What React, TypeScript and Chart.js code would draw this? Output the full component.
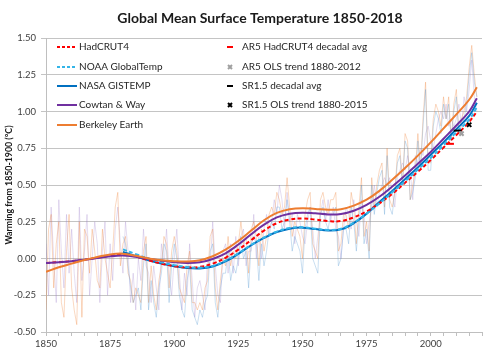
import React, { useEffect, useRef } from "react";
import { Chart, registerables } from "chart.js";
Chart.register(...registerables);

const TITLE = "Global Mean Surface Temperature 1850-2018";
const Y_TITLE = "Warming from 1850-1900 (°C)";

// smoothed curves (knot years)
const SMOOTH_YEARS = [1850, 1855, 1860, 1865, 1870, 1875, 1880, 1885, 1890, 1895, 1900, 1905, 1910, 1915, 1920, 1925, 1930, 1935, 1940, 1945, 1950, 1955, 1960, 1965, 1970, 1975, 1980, 1985, 1990, 1995, 2000, 2005, 2010, 2015, 2018];
const HADCRUT4 = [-0.03, -0.025, -0.018, -0.008, 0.005, 0.018, 0.024, 0.012, -0.012, -0.035, -0.052, -0.06, -0.057, -0.035, 0.005, 0.06, 0.125, 0.19, 0.24, 0.265, 0.272, 0.265, 0.255, 0.255, 0.28, 0.32, 0.375, 0.44, 0.515, 0.59, 0.67, 0.755, 0.84, 0.93, 1.0];
const COWTAN_WAY = [-0.03, -0.025, -0.018, -0.008, 0.003, 0.015, 0.02, 0.012, -0.002, -0.015, -0.025, -0.03, -0.025, -0.003, 0.035, 0.095, 0.165, 0.23, 0.28, 0.305, 0.312, 0.307, 0.3, 0.303, 0.325, 0.365, 0.42, 0.49, 0.565, 0.645, 0.725, 0.815, 0.905, 1.0, 1.09];
const BERKELEY = [-0.09, -0.06, -0.035, -0.01, 0.01, 0.028, 0.033, 0.018, 0.0, -0.012, -0.018, -0.02, -0.012, 0.015, 0.06, 0.12, 0.19, 0.26, 0.31, 0.335, 0.342, 0.337, 0.332, 0.335, 0.36, 0.4, 0.46, 0.535, 0.615, 0.7, 0.79, 0.885, 0.98, 1.08, 1.165];

const US_YEARS = [1880, 1885, 1890, 1895, 1900, 1905, 1910, 1915, 1920, 1925, 1930, 1935, 1940, 1945, 1950, 1955, 1960, 1965, 1970, 1975, 1980, 1985, 1990, 1995, 2000, 2005, 2010, 2015, 2018];
const NASA_GISTEMP = [0.045, 0.015, -0.012, -0.035, -0.052, -0.065, -0.068, -0.055, -0.02, 0.032, 0.09, 0.14, 0.18, 0.203, 0.21, 0.2, 0.19, 0.198, 0.24, 0.305, 0.385, 0.46, 0.54, 0.62, 0.705, 0.79, 0.88, 0.97, 1.06];
const NOAA_GLOBALTEMP = [0.062, 0.03, 0.0, -0.025, -0.045, -0.058, -0.063, -0.05, -0.015, 0.035, 0.093, 0.143, 0.183, 0.207, 0.213, 0.203, 0.194, 0.202, 0.244, 0.305, 0.375, 0.45, 0.525, 0.605, 0.685, 0.77, 0.86, 0.945, 1.03];

// faint raw series (annual, from 1850 and 1880)
const BERKELEY_RAW_START = 1850;
const BERKELEY_RAW = [
  -0.35, 0.2, 0.3, -0.2, 0.1, 0.25, -0.3, -0.4, 0.05, 0.3,
  -0.2, -0.35, -0.45, 0.25, -0.4, 0.2, 0.15, -0.1, 0.2, 0.05,
  -0.15, -0.2, 0.2, 0.0, -0.1, -0.2, 0.05, 0.35, 0.45, -0.05,
  0.1, 0.15, -0.1, -0.15, -0.3, -0.2, -0.25, -0.3, 0.05, 0.15,
  -0.3, -0.05, -0.25, -0.35, -0.15, -0.05, 0.15, 0.1, -0.2, 0.05,
  0.15, 0.05, -0.2, -0.25, -0.3, -0.05, 0.05, -0.3, -0.3, -0.35,
  -0.3, -0.35, -0.2, -0.15, 0.15, 0.2, -0.2, -0.35, -0.15, 0.0,
  -0.05, 0.15, -0.05, 0.05, 0.0, 0.1, 0.25, 0.1, 0.15, -0.1,
  0.2, 0.25, 0.15, -0.05, 0.2, 0.05, 0.15, 0.3, 0.35, 0.3,
  0.45, 0.4, 0.3, 0.35, 0.55, 0.35, 0.15, 0.25, 0.2, 0.15,
  0.0, 0.3, 0.4, 0.45, 0.1, 0.05, 0.0, 0.4, 0.45, 0.35,
  0.3, 0.4, 0.4, 0.45, 0.05, 0.1, 0.3, 0.3, 0.2, 0.45,
  0.35, 0.1, 0.35, 0.55, 0.15, 0.25, 0.05, 0.55, 0.35, 0.5,
  0.6, 0.65, 0.35, 0.75, 0.4, 0.35, 0.45, 0.7, 0.75, 0.5,
  0.85, 0.8, 0.4, 0.5, 0.6, 0.85, 0.6, 0.95, 1.2, 0.65,
  0.65, 0.95, 1.05, 1.0, 0.9, 1.1, 0.95, 1.1, 0.8, 1.05,
  1.15, 0.85, 0.95, 1.0, 1.1, 1.3, 1.45, 1.25, 1.1,
];
const COWTAN_RAW_START = 1850;
const COWTAN_RAW = [
  0.1, -0.25, 0.35, 0.0, -0.3, 0.4, 0.05, -0.2, 0.3, -0.1,
  0.2, -0.1, -0.3, 0.35, -0.15, 0.05, 0.3, -0.25, 0.0, 0.25,
  0.1, -0.3, 0.05, 0.25, -0.25, 0.1, -0.15, 0.2, 0.35, 0.1,
  -0.1, 0.25, 0.05, -0.3, -0.1, -0.35, 0.0, -0.15, 0.2, -0.05,
  -0.1, -0.3, -0.05, -0.2, -0.35, 0.1, -0.05, 0.2, -0.1, -0.25,
  0.0, 0.2, -0.1, -0.35, -0.1, -0.25, 0.1, -0.15, -0.4, -0.2,
  -0.15, -0.25, -0.35, 0.0, -0.05, 0.25, -0.05, -0.25, -0.3, 0.05,
  0.1, -0.1, 0.1, -0.1, 0.15, -0.05, 0.15, 0.2, -0.05, 0.05,
  0.05, 0.3, 0.0, 0.15, 0.0, 0.2, 0.3, 0.15, 0.25, 0.4,
  0.3, 0.5, 0.4, 0.2, 0.45, 0.25, 0.3, 0.1, 0.3, 0.25,
  0.15, 0.1, 0.25, 0.35, 0.2, 0.0, 0.15, 0.3, 0.4, 0.25,
  0.4, 0.25, 0.35, 0.2, 0.15, 0.0, 0.2, 0.35, 0.3, 0.2,
  0.4, 0.25, 0.15, 0.4, 0.3, 0.1, 0.25, 0.35, 0.5, 0.35,
  0.45, 0.5, 0.55, 0.5, 0.55, 0.45, 0.35, 0.55, 0.6, 0.65,
  0.6, 0.7, 0.6, 0.4, 0.7, 0.65, 0.75, 0.7, 0.85, 0.9,
  0.8, 0.75, 0.85, 0.95, 1.0, 0.95, 1.05, 0.9, 0.95, 0.9,
  0.95, 1.05, 0.9, 1.1, 1.0, 1.15, 1.35, 1.1, 1.0,
];
const NASA_RAW_START = 1880;
const NASA_RAW = [
  0.15, 0.1, -0.05, -0.2, -0.3, -0.25, -0.2, -0.35, -0.05, 0.1,
  -0.35, -0.15, -0.3, -0.4, -0.2, -0.1, 0.1, 0.05, -0.3, -0.05,
  0.1, 0.0, -0.25, -0.35, -0.4, -0.15, -0.05, -0.35, -0.4, -0.45,
  -0.35, -0.4, -0.3, -0.25, 0.05, 0.1, -0.3, -0.4, -0.2, -0.1,
  -0.1, 0.05, -0.15, -0.05, -0.1, 0.0, 0.15, 0.0, 0.05, -0.2,
  0.1, 0.15, 0.1, -0.15, 0.1, -0.05, 0.05, 0.2, 0.25, 0.2,
  0.35, 0.35, 0.2, 0.25, 0.4, 0.25, 0.05, 0.15, 0.1, 0.05,
  -0.1, 0.2, 0.3, 0.35, 0.0, -0.05, -0.1, 0.3, 0.35, 0.25,
  0.2, 0.3, 0.3, 0.35, -0.05, 0.0, 0.2, 0.2, 0.1, 0.35,
  0.25, 0.05, 0.25, 0.5, 0.1, 0.2, 0.0, 0.5, 0.3, 0.45,
  0.55, 0.6, 0.3, 0.7, 0.35, 0.3, 0.45, 0.65, 0.7, 0.5,
  0.8, 0.75, 0.4, 0.45, 0.55, 0.8, 0.6, 0.9, 1.15, 0.6,
  0.6, 0.9, 1.0, 0.95, 0.85, 1.05, 0.95, 1.05, 0.8, 1.0,
  1.1, 0.85, 0.9, 0.95, 1.05, 1.25, 1.4, 1.2, 1.1,
];

// assessment markers [year, value]
const AR5_DECADAL = [2007.5, 0.78];
const AR5_TREND = [2012, 0.85];
const SR15_DECADAL = [2010.5, 0.87];
const SR15_TREND = [2015, 0.91];

const X_TICK_LABELS = [1850, 1875, 1900, 1925, 1950, 1975, 2000];

const C_RED = "#ff0000";
const C_NOAA = "#33b5e8";
const C_NASA = "#0070c0";
const C_PURPLE = "#7030a0";
const C_ORANGE = "#ed7d31";
const C_GREY = "#a0a0a0";
const C_BLACK = "#000000";
const FONT = "Lato, 'Open Sans', sans-serif";
const DASH = [4, 2.5];

const pts = (xs: number[], ys: number[]) => ys.map((y, i) => ({ x: xs[i], y }));
const rawPts = (start: number, ys: number[]) => ys.map((y, i) => ({ x: start + i, y }));

const LEFT_LEGEND = [
  { label: "HadCRUT4", color: C_RED, dash: true },
  { label: "NOAA GlobalTemp", color: C_NOAA, dash: true },
  { label: "NASA GISTEMP", color: C_NASA, dash: false },
  { label: "Cowtan & Way", color: C_PURPLE, dash: false },
  { label: "Berkeley Earth", color: C_ORANGE, dash: false },
];
const RIGHT_LEGEND = [
  { label: "AR5 HadCRUT4 decadal avg", color: C_RED, style: "line" },
  { label: "AR5 OLS trend 1880-2012", color: C_GREY, style: "cross" },
  { label: "SR1.5 decadal avg", color: C_BLACK, style: "line" },
  { label: "SR1.5 OLS trend 1880-2015", color: C_BLACK, style: "cross" },
];

const overlayPlugin = {
  id: "overlay",
  afterDraw(chart: any) {
    const ctx = chart.ctx as CanvasRenderingContext2D;
    ctx.save();
    // title
    ctx.fillStyle = "#1a1a1a";
    ctx.font = `bold 14px ${FONT}`;
    ctx.textAlign = "center";
    ctx.textBaseline = "middle";
    ctx.fillText(TITLE, 260, 18);
    // legend
    ctx.font = `10px ${FONT}`;
    ctx.textAlign = "left";
    const rows = [47, 67, 86, 105, 125];
    LEFT_LEGEND.forEach((it, i) => {
      const y = rows[i];
      ctx.strokeStyle = it.color;
      ctx.lineWidth = 2;
      ctx.setLineDash(it.dash ? [3, 2] : []);
      ctx.beginPath();
      ctx.moveTo(57, y);
      ctx.lineTo(77, y);
      ctx.stroke();
      ctx.setLineDash([]);
      ctx.fillStyle = "#262626";
      ctx.fillText(it.label, 79, y);
    });
    RIGHT_LEGEND.forEach((it, i) => {
      const y = rows[i];
      ctx.strokeStyle = it.color;
      ctx.lineWidth = 2;
      ctx.beginPath();
      if (it.style === "line") {
        ctx.moveTo(227, y);
        ctx.lineTo(233, y);
      } else {
        ctx.moveTo(228, y - 2);
        ctx.lineTo(232, y + 2);
        ctx.moveTo(228, y + 2);
        ctx.lineTo(232, y - 2);
      }
      ctx.stroke();
      ctx.fillStyle = "#262626";
      ctx.fillText(it.label, 242, y);
    });
    ctx.restore();
  },
};

export default function App() {
  const ref = useRef<HTMLCanvasElement>(null);
  useEffect(() => {
    const smooth = (label: string, xs: number[], ys: number[], color: string, dashed: boolean, order: number) => ({
      label,
      data: pts(xs, ys),
      borderColor: color,
      backgroundColor: color,
      borderWidth: 2,
      borderDash: dashed ? DASH : [],
      pointRadius: 0,
      tension: 0.4,
      fill: false,
      order,
    });
    const raw = (label: string, start: number, ys: number[], color: string, order: number) => ({
      label,
      data: rawPts(start, ys),
      borderColor: color,
      borderWidth: 1,
      pointRadius: 0,
      tension: 0,
      order,
    });
    const marker = (label: string, p: number[], color: string, style: string, radius: number) => ({
      label,
      data: [{ x: p[0], y: p[1] }],
      showLine: false,
      pointStyle: style,
      pointRadius: radius,
      pointBorderColor: color,
      pointBackgroundColor: color,
      pointBorderWidth: 2,
      borderColor: color,
      backgroundColor: color,
      order: 0,
    });
    const chart = new Chart(ref.current as HTMLCanvasElement, {
      type: "line",
      data: {
        datasets: [
          raw("Berkeley raw", BERKELEY_RAW_START, BERKELEY_RAW, "rgba(237,125,49,0.3)", 20),
          raw("Cowtan raw", COWTAN_RAW_START, COWTAN_RAW, "rgba(150,120,200,0.25)", 21),
          raw("NASA raw", NASA_RAW_START, NASA_RAW, "rgba(91,155,213,0.32)", 19),
          smooth("HadCRUT4", SMOOTH_YEARS, HADCRUT4, C_RED, true, 5),
          smooth("NOAA GlobalTemp", US_YEARS, NOAA_GLOBALTEMP, C_NOAA, true, 4),
          smooth("NASA GISTEMP", US_YEARS, NASA_GISTEMP, C_NASA, false, 6),
          smooth("Cowtan & Way", SMOOTH_YEARS, COWTAN_WAY, C_PURPLE, false, 2),
          smooth("Berkeley Earth", SMOOTH_YEARS, BERKELEY, C_ORANGE, false, 1),
          marker("AR5 HadCRUT4 decadal avg", AR5_DECADAL, C_RED, "line", 4),
          marker("AR5 OLS trend 1880-2012", AR5_TREND, C_GREY, "crossRot", 3),
          marker("SR1.5 decadal avg", SR15_DECADAL, C_BLACK, "line", 4),
          marker("SR1.5 OLS trend 1880-2015", SR15_TREND, C_BLACK, "crossRot", 3),
        ] as any,
      },
      options: {
        animation: false,
        responsive: false,
        layout: { padding: { top: 38, right: 18, left: 0, bottom: 0 } },
        plugins: { legend: { display: false }, title: { display: false }, tooltip: { enabled: false } },
        scales: {
          x: {
            type: "linear",
            min: 1850,
            max: 2020,
            afterFit: (s: any) => { s.height = 28; },
            ticks: {
              stepSize: 5,
              autoSkip: false,
              maxRotation: 0,
              padding: 2,
              color: "#404040",
              font: { family: FONT, size: 9.5 },
              callback: (v: any) => (X_TICK_LABELS.includes(Number(v)) ? String(v) : ""),
            },
            grid: { drawOnChartArea: false, drawTicks: true, tickLength: 4, color: "#bfbfbf" },
            border: { display: true, color: "#bfbfbf" },
          },
          y: {
            type: "linear",
            min: -0.5,
            max: 1.5,
            afterFit: (s: any) => { s.width = 46; },
            ticks: {
              stepSize: 0.25,
              padding: 5,
              color: "#404040",
              font: { family: FONT, size: 9.5 },
              callback: (v: any) => Number(v).toFixed(2),
            },
            grid: { color: "#c4c4c4", drawTicks: true, tickLength: 5 },
            border: { display: true, color: "#bfbfbf" },
            title: {
              display: true,
              text: Y_TITLE,
              color: "#1a1a1a",
              font: { family: FONT, size: 8.8, weight: "bold" },
              padding: { top: 4, bottom: 2 },
            },
          },
        },
      },
      plugins: [overlayPlugin],
    } as any);
    return () => chart.destroy();
  }, []);
  return (
    <div style={{ position: "absolute", left: 0, top: 0, width: 500, height: 360, background: "#fff" }}>
      <canvas ref={ref} width={500} height={360} style={{ display: "block", width: 500, height: 360 }} />
    </div>
  );
}
